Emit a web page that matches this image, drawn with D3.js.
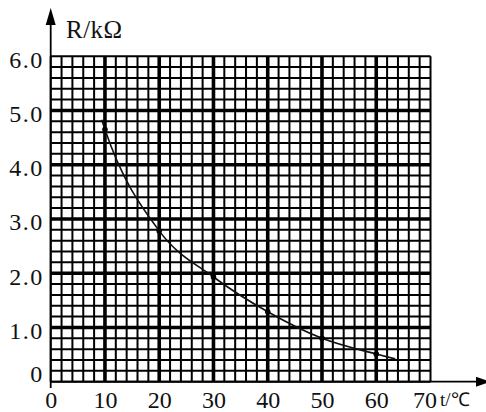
<!DOCTYPE html>
<html>
<head>
<meta charset="utf-8">
<script src="https://cdn.jsdelivr.net/npm/d3@7"></script>
<style>
  html, body { margin: 0; padding: 0; background: #fff; }
  svg { display: block; }
  svg text { font-family: "Liberation Serif", "Times New Roman", Times, serif; fill: #111; }
</style>
</head>
<body>
<svg id="chart" width="486" height="412"></svg>
<script>
// ---- data ----
const tempC = [10, 20, 30, 40, 50, 60];
const resistance = [4.65, 2.78, 1.93, 1.29, 0.80, 0.51];
// fitted curve drawn through the points, with its read start / end
const curveT = [9.4, 10, 20, 30, 40, 50, 60, 63.5];
const curveR = [4.83, 4.65, 2.78, 1.93, 1.29, 0.80, 0.51, 0.42];
const xTickValues = [0, 10, 20, 30, 40, 50, 60, 70];
const xTickLabels = ["0", "10", "20", "30", "40", "50", "60", "70"];
const yTickValues = [0, 1, 2, 3, 4, 5, 6];
const yTickLabels = ["0", "1.0", "2.0", "3.0", "4.0", "5.0", "6.0"];
const xTitle = "t/℃";
const yTitle = "R/kΩ";

// ---- layout ----
const svg = d3.select("#chart");
const x = d3.scaleLinear().domain([0, 70]).range([50.7, 430.5]);
const y = d3.scaleLinear().domain([0, 6]).range([381.7, 56.2]);

const grid = svg.append("g");
const minorX = d3.range(0, 70.001, 2);
const minorY = d3.range(0, 6.001, 0.2);

grid.selectAll("line.vx").data(minorX).join("line")
  .attr("x1", d => x(d)).attr("x2", d => x(d))
  .attr("y1", y(0)).attr("y2", y(6))
  .attr("stroke", "#000")
  .attr("stroke-width", d => (Math.abs(d % 10) < 1e-6 && d > 0 && d < 70) ? 3.6 : 2.0);

grid.selectAll("line.hy").data(minorY).join("line")
  .attr("y1", d => y(d)).attr("y2", d => y(d))
  .attr("x1", x(0)).attr("x2", x(70))
  .attr("stroke", "#000")
  .attr("stroke-width", d => {
    const r = Math.round(d * 5);
    return (r % 5 === 0 && r > 0 && r < 30) ? 3.6 : 2.0;
  });

// ---- axes lines with arrows ----
const ax = svg.append("g");
ax.append("line").attr("x1", x(0)).attr("x2", x(0)).attr("y1", 388).attr("y2", 22)
  .attr("stroke", "#000").attr("stroke-width", 1.8);
ax.append("path").attr("d", `M${x(0)},8 L${x(0) - 5},25 L${x(0) + 5},25 Z`).attr("fill", "#000");
ax.append("line").attr("x1", x(0)).attr("x2", 478).attr("y1", y(0)).attr("y2", y(0))
  .attr("stroke", "#000").attr("stroke-width", 1.8);
ax.append("path").attr("d", `M490,${y(0)} L476,${y(0) - 5} L476,${y(0) + 5} Z`).attr("fill", "#000");

// ---- tick labels via d3 axes ----
const xAxis = d3.axisBottom(x).tickValues(xTickValues)
  .tickFormat((d, i) => xTickLabels[i]).tickSize(0).tickPadding(0);
const gx = svg.append("g").attr("transform", `translate(0,${y(0)})`).call(xAxis)
  .attr("font-family", null);
gx.select(".domain").remove();
gx.selectAll("text").attr("font-size", 24).attr("dy", null).attr("y", 26)
  .attr("dx", (d) => d === 70 ? -6 : 0);

const yAxis = d3.axisLeft(y).tickValues(yTickValues)
  .tickFormat((d, i) => yTickLabels[i]).tickSize(0).tickPadding(0);
const gy = svg.append("g").attr("transform", `translate(${x(0) - 7},0)`).call(yAxis)
  .attr("font-family", null);
gy.select(".domain").remove();
gy.selectAll("text").attr("font-size", 24).attr("dy", null)
  .attr("y", d => d === 0 ? 0 : 11)
  .attr("letter-spacing", 1.5);

// ---- titles ----
svg.append("text").attr("x", 66).attr("y", 38).attr("font-size", 25)
  .attr("letter-spacing", 0.5).text(yTitle);
svg.append("text").attr("x", 440).attr("y", 406).attr("font-size", 19).text(xTitle);

// ---- curve & points ----
const curveData = curveT.map((t, i) => [t, curveR[i]]);
const line = d3.line().x(d => x(d[0])).y(d => y(d[1])).curve(d3.curveMonotoneX);
svg.append("path").datum(curveData).attr("d", line)
  .attr("fill", "none").attr("stroke", "#111").attr("stroke-width", 1.6);

svg.selectAll("circle.pt").data(tempC).join("circle")
  .attr("cx", d => x(d)).attr("cy", (d, i) => y(resistance[i])).attr("r", 2.8)
  .attr("fill", "#000");
</script>
</body>
</html>
